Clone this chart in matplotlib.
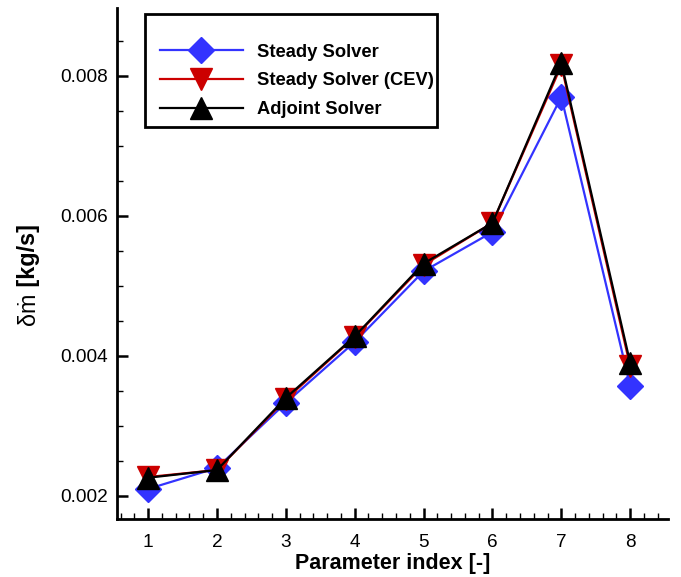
import matplotlib
matplotlib.use("Agg")
import matplotlib.pyplot as plt
from matplotlib.ticker import MultipleLocator, FormatStrFormatter
from matplotlib.patches import Rectangle

plt.rcParams['font.family'] = ['Liberation Sans', 'DejaVu Sans']

params = [1, 2, 3, 4, 5, 6, 7, 8]
steady = [0.00210, 0.00240, 0.00333, 0.00420, 0.00521, 0.00577, 0.00770, 0.00357]
steady_cev = [0.00227, 0.00237, 0.00338, 0.00427, 0.00530, 0.00590, 0.00815, 0.00385]
adjoint = [0.00226, 0.00237, 0.00340, 0.00428, 0.00532, 0.00590, 0.00819, 0.00390]

fig = plt.figure(figsize=(6.81, 5.77), dpi=100)
ax = fig.add_axes([0.172, 0.1005, 0.809, 0.8855])

ax.plot(params, steady, color='#3333ff', lw=1.6, marker='D', ms=13.5,
        label='Steady Solver', zorder=3)
ax.plot(params, steady_cev, color='#cc0000', lw=1.6, marker='v', ms=16,
        label='Steady Solver (CEV)', zorder=4)
ax.plot(params, adjoint, color='black', lw=1.6, marker='^', ms=16,
        label='Adjoint Solver', zorder=5)

ax.set_xlim(0.55, 8.55)
ax.set_ylim(0.00167, 0.00897)
ax.xaxis.set_major_locator(MultipleLocator(1))
ax.xaxis.set_minor_locator(MultipleLocator(0.2))
ax.yaxis.set_major_locator(MultipleLocator(0.002))
ax.yaxis.set_minor_locator(MultipleLocator(0.0005))
ax.yaxis.set_major_formatter(FormatStrFormatter('%.3f'))

for s in ['top', 'right']:
    ax.spines[s].set_visible(False)
for s in ['left', 'bottom']:
    ax.spines[s].set_linewidth(2)

ax.tick_params(which='major', direction='in', length=8, width=1.8, labelsize=13.7)
ax.tick_params(axis='x', which='major', pad=11)
ax.tick_params(axis='y', which='major', pad=6.5)
ax.tick_params(which='minor', direction='in', length=4, width=1.0)

ax.set_xlabel('Parameter index [-]', fontsize=15.5, fontweight='bold', labelpad=1)

ax.text(-0.160, 0.443, 'δṁ', transform=ax.transAxes, rotation=90,
        ha='center', va='top', fontsize=16.8)
ax.text(-0.160, 0.443, ' [kg/s]', transform=ax.transAxes, rotation=90,
        ha='center', va='bottom', fontsize=16.8, fontweight='bold')

# legend frame drawn separately for its asymmetric padding
ax.add_patch(Rectangle((0.0508, 0.767), 0.530, 0.221, transform=ax.transAxes,
                       facecolor='white', edgecolor='black', lw=2, zorder=6,
                       clip_on=False))
leg = ax.legend(loc='upper left', bbox_to_anchor=(0.078, 0.930),
                prop={'weight': 'bold', 'size': 13.2}, frameon=False,
                borderpad=0, handlelength=4.5, labelspacing=0.63,
                handletextpad=0.76, borderaxespad=0)
leg.set_zorder(7)

fig.savefig('out.png', dpi=100)
